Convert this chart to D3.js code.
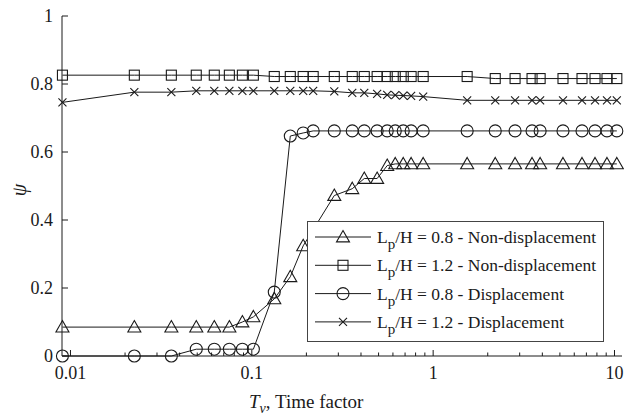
<!DOCTYPE html>
<html><head><meta charset="utf-8">
<script src="https://cdn.jsdelivr.net/npm/d3@7"></script>
<style>
html,body{margin:0;padding:0;background:#fff;}
svg{display:block;}
svg text{font-family:"Liberation Serif","Times New Roman","DejaVu Serif",serif;}
</style></head>
<body><svg id="chart" width="624" height="418"></svg>
<script>
// ---- data ----
const tValues = [0.00903, 0.0225, 0.036, 0.0494, 0.0621, 0.0752, 0.0887, 0.102, 0.133, 0.163, 0.192, 0.218, 0.285, 0.358, 0.417, 0.491, 0.558, 0.618, 0.684, 0.756, 0.881, 1.54, 2.20, 2.83, 3.51, 3.89, 5.20, 6.62, 7.81, 9.09, 10.3];
const triNonDisp08 = [0.085, 0.085, 0.085, 0.085, 0.085, 0.085, 0.10, 0.115, 0.168, 0.233, 0.324, null, 0.472, 0.492, 0.522, 0.522, 0.560, 0.565, 0.565, 0.565, 0.565, 0.565, 0.565, 0.565, 0.565, 0.565, 0.565, 0.565, 0.565, 0.565, 0.565];
const sqNonDisp12 = [0.826, 0.826, 0.826, 0.826, 0.826, 0.826, 0.826, 0.826, 0.822, 0.822, 0.822, 0.822, 0.822, 0.822, 0.822, 0.822, 0.822, 0.822, 0.822, 0.822, 0.822, 0.822, 0.816, 0.816, 0.816, 0.816, 0.816, 0.816, 0.816, 0.816, 0.816];
const circDisp08 = [0, 0, 0, 0.02, 0.02, 0.02, 0.02, 0.02, 0.188, 0.647, 0.656, 0.662, 0.662, 0.662, 0.662, 0.662, 0.662, 0.662, 0.662, 0.662, 0.662, 0.662, 0.662, 0.662, 0.662, 0.662, 0.662, 0.662, 0.662, 0.662, 0.662];
const crossDisp12 = [0.746, 0.776, 0.776, 0.78, 0.78, 0.78, 0.78, 0.78, 0.78, 0.78, 0.78, 0.78, 0.778, 0.774, 0.774, 0.771, 0.768, 0.767, 0.766, 0.765, 0.763, 0.752, 0.752, 0.752, 0.752, 0.752, 0.752, 0.752, 0.752, 0.752, 0.752];
const seriesNames = ["/H = 0.8 - Non-displacement", "/H = 1.2 - Non-displacement", "/H = 0.8 - Displacement", "/H = 1.2 - Displacement"];
const xTickValues = [0.01, 0.1, 1, 10];
const xTickLabels = ["0.01", "0.1", "1", "10"];
const yTickValues = [0, 0.2, 0.4, 0.6, 0.8, 1];
const yTickLabels = ["0", "0.2", "0.4", "0.6", "0.8", "1"];

// ---- chart ----
const svg = d3.select("#chart");
const ink = "#1a1a1a";
const serif = "'Liberation Serif', 'Times New Roman', 'DejaVu Serif', serif";
const x = d3.scaleLog().domain([0.00898, 11]).range([62, 622]);
const y = d3.scaleLinear().domain([0, 1]).range([356, 16]);

const series = [
  {name: seriesNames[0], values: triNonDisp08, marker: "tri"},
  {name: seriesNames[1], values: sqNonDisp12, marker: "sq"},
  {name: seriesNames[2], values: circDisp08, marker: "circ"},
  {name: seriesNames[3], values: crossDisp12, marker: "cross"}
];

function drawMarker(g, type, cx, cy) {
  if (type === "tri") {
    const s = 6.5;
    g.append("path").attr("d", `M${cx},${cy - s}L${cx + s * 1.0},${cy + s * 0.75}L${cx - s * 1.0},${cy + s * 0.75}Z`)
      .attr("fill", "none").attr("stroke", ink).attr("stroke-width", 1.1);
  } else if (type === "sq") {
    const s = 5;
    g.append("rect").attr("x", cx - s).attr("y", cy - s).attr("width", 2 * s).attr("height", 2 * s)
      .attr("fill", "none").attr("stroke", ink).attr("stroke-width", 1.1);
  } else if (type === "circ") {
    g.append("circle").attr("cx", cx).attr("cy", cy).attr("r", 6)
      .attr("fill", "none").attr("stroke", ink).attr("stroke-width", 1.1);
  } else {
    const s = 4;
    g.append("path").attr("d", `M${cx - s},${cy - s}L${cx + s},${cy + s}M${cx - s},${cy + s}L${cx + s},${cy - s}`)
      .attr("fill", "none").attr("stroke", ink).attr("stroke-width", 1.1);
  }
}

const line = d3.line().x(d => x(d.t)).y(d => y(d.v));
const plot = svg.append("g");
series.forEach(s => {
  const pts = tValues.map((t, i) => ({t, v: s.values[i]})).filter(p => p.v !== null);
  plot.append("path").attr("d", line(pts))
    .attr("fill", "none").attr("stroke", ink).attr("stroke-width", 1);
  pts.forEach(p => drawMarker(plot, s.marker, x(p.t), y(p.v)));
});

// axes
const minor = [];
[0.01, 0.1, 1].forEach(d => { for (let k = 2; k <= 9; k++) minor.push(d * k); });
const axG = svg.append("g").attr("stroke", ink);
axG.append("line").attr("x1", 62).attr("x2", 622).attr("y1", y(0)).attr("y2", y(0)).attr("stroke-width", 1);
axG.append("line").attr("x1", 62).attr("x2", 62).attr("y1", y(0)).attr("y2", y(1)).attr("stroke-width", 1);
xTickValues.forEach(v => axG.append("line").attr("x1", x(v)).attr("x2", x(v)).attr("y1", y(0)).attr("y2", y(0) - 6));
minor.forEach(v => axG.append("line").attr("x1", x(v)).attr("x2", x(v)).attr("y1", y(0)).attr("y2", y(0) - 3.5));
yTickValues.forEach(v => axG.append("line").attr("x1", 62).attr("x2", 68).attr("y1", y(v)).attr("y2", y(v)));

const lab = svg.append("g").attr("fill", ink).attr("font-size", 18).attr("font-family", serif);
xTickValues.forEach((v, i) => lab.append("text").attr("x", x(v)).attr("y", 379).attr("text-anchor", "middle").text(xTickLabels[i]));
yTickValues.forEach((v, i) => lab.append("text").attr("x", 53).attr("y", y(v) + 6).attr("text-anchor", "end").text(yTickLabels[i]));

// axis titles
const xt = svg.append("text").attr("x", 249).attr("y", 408).attr("font-size", 19).attr("fill", ink).attr("font-family", serif);
xt.append("tspan").attr("font-style", "italic").text("T");
xt.append("tspan").attr("font-style", "italic").attr("font-size", 14).attr("dy", 5).text("v");
xt.append("tspan").attr("dy", -5).text(", Time factor");
svg.append("text").attr("transform", "translate(26,190) rotate(-90)").attr("text-anchor", "middle")
  .attr("font-size", 20).attr("font-style", "italic").attr("fill", ink).attr("font-family", serif).text("ψ");

// legend
const lg = svg.append("g");
lg.append("rect").attr("x", 307.5).attr("y", 221.5).attr("width", 296).attr("height", 120)
  .attr("fill", "#fff").attr("stroke", "#444").attr("stroke-width", 1);
series.forEach((s, i) => {
  const ry = 237 + i * 28.3;
  lg.append("line").attr("x1", 315).attr("x2", 371).attr("y1", ry).attr("y2", ry).attr("stroke", ink);
  drawMarker(lg, s.marker, 343, ry);
  const t = lg.append("text").attr("x", 377).attr("y", ry + 6).attr("font-size", 17.5).attr("fill", ink).attr("font-family", serif);
  t.append("tspan").text("L");
  t.append("tspan").attr("font-size", 15).attr("dy", 6).text("p");
  t.append("tspan").attr("dy", -6).text(s.name);
});
</script></body></html>
